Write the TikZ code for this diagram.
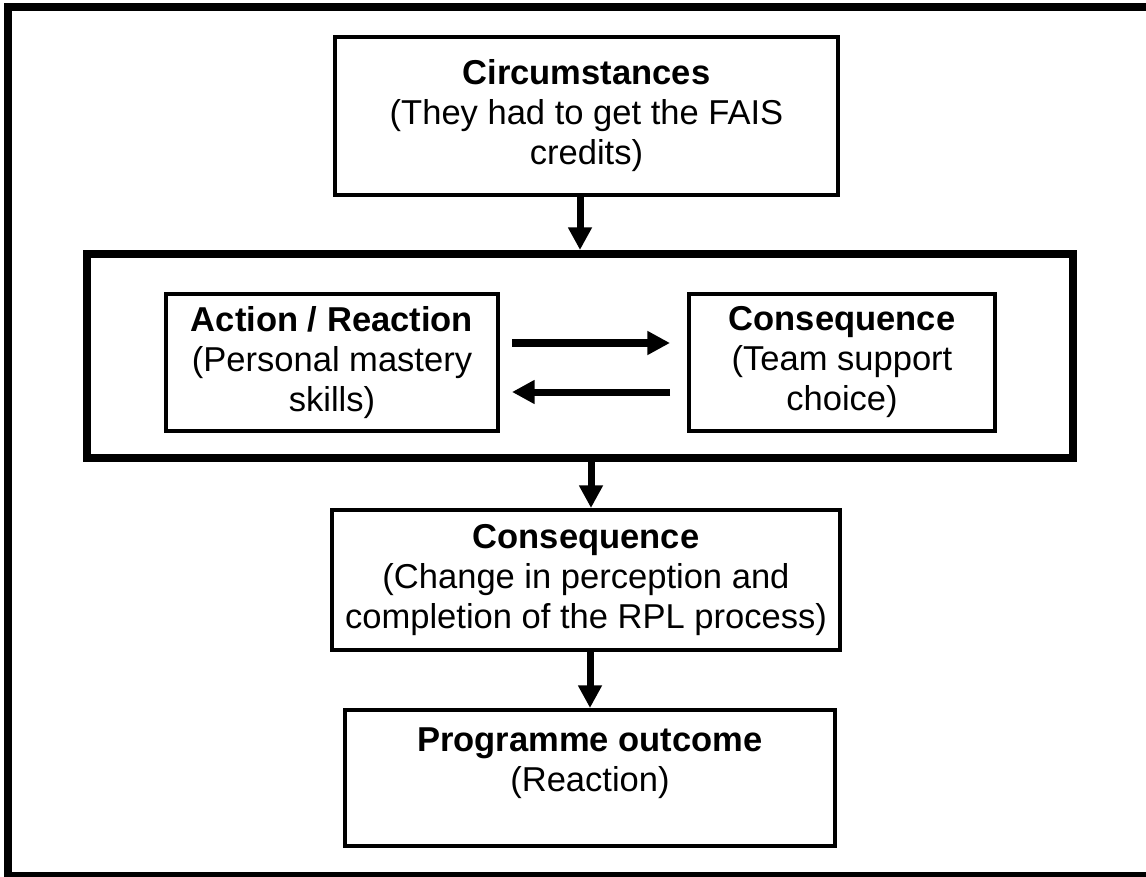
\documentclass[tikz,border=0pt]{standalone}
\usepackage{fontspec}
\setmainfont{Liberation Sans}
\usetikzlibrary{arrows.meta,calc}
\begin{document}
\begin{tikzpicture}[x=0.75pt,y=-0.75pt,
  textbox/.style={draw, line width=3pt, align=center, inner sep=0pt,
    font=\fontsize{25.9}{30}\selectfont},
  bigframe/.style={draw, line width=6pt, inner sep=0pt},
  arr/.style={line width=5.25pt, -{Triangle[length=17pt,width=17pt]}},
]
% canvas
\useasboundingbox (0,0) rectangle (1146,877);
\begin{scope}
  \clip (0,0) rectangle (1146,877);
  \draw[line width=6pt] (8,7) rectangle (1160,876);
\end{scope}

% top box
\node[textbox, minimum width=503*0.75pt, minimum height=158*0.75pt] (circ) at (586.5,116)
  {\textbf{Circumstances}\\(They had to get the FAIS\\credits)};

% enclosing frame around the feedback loop
\node[bigframe, minimum width=986*0.75pt, minimum height=204*0.75pt] (frm) at (580,356) {};

\node[textbox, minimum width=332*0.75pt, minimum height=137*0.75pt] (act) at (332,362.5)
  {\textbf{Action / Reaction}\\(Personal mastery\\skills)};
\node[textbox, minimum width=306*0.75pt, minimum height=137*0.75pt] (cons) at (842,362.5)
  {\textbf{Consequence}\\(Team support\\choice)};

\node[textbox, minimum width=508*0.75pt, minimum height=140*0.75pt] (low) at (586,580)
  {\textbf{Consequence}\\(Change in perception and\\completion of the RPL process)};

\node[textbox, minimum width=490*0.75pt, minimum height=136*0.75pt] (prog) at (590,778)
  {\textbf{Programme outcome}\\(Reaction)\\[-2pt]~};

% connectors
\draw[arr] (circ.south -| frm.north) -- (frm.north);
\draw[arr] ([xshift=12*0.75pt, yshift=19.5*0.75pt]act.east)
        -- ([xshift=-17*0.75pt, yshift=19.5*0.75pt]cons.west);
\draw[arr] ([xshift=-17*0.75pt, yshift=-29.5*0.75pt]cons.west)
        -- ([xshift=12*0.75pt, yshift=-29.5*0.75pt]act.east);
\draw[arr] ([xshift=3.75pt]low.north |- frm.south) -- ([xshift=3.75pt]low.north);
\draw[arr] (low.south -| prog.north) -- (prog.north);
\end{tikzpicture}
\end{document}
